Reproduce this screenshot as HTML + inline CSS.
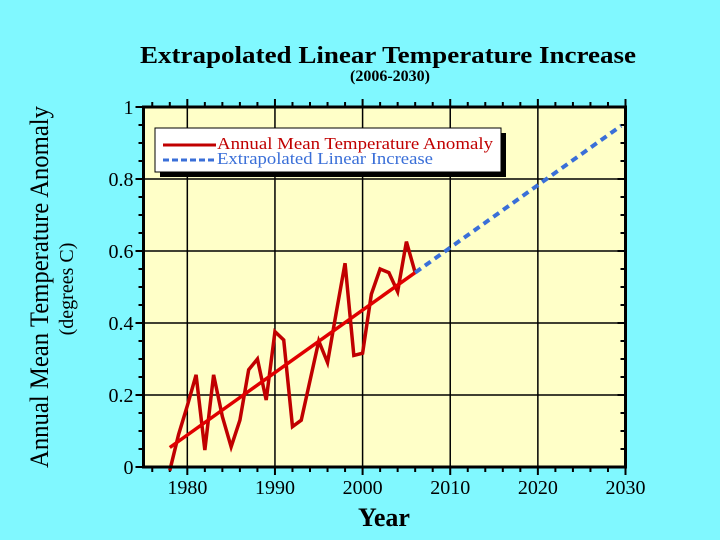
<!DOCTYPE html>
<html><head><meta charset="utf-8">
<style>
html,body{margin:0;padding:0;background:#80f8ff;}
svg{display:block;}
text{font-family:"Liberation Serif",serif;}
</style></head>
<body>
<svg id="chart" width="720" height="540" viewBox="0 0 720 540">
<rect x="0" y="0" width="720" height="540" fill="#80f8ff"/>
<text x="388" y="63" text-anchor="middle" font-size="24" font-weight="bold" textLength="496" lengthAdjust="spacingAndGlyphs">Extrapolated Linear Temperature Increase</text>
<text x="390" y="81" text-anchor="middle" font-size="16" font-weight="bold">(2006-2030)</text>
<text transform="translate(48,287) rotate(-90)" text-anchor="middle" font-size="26" textLength="362" lengthAdjust="spacingAndGlyphs">Annual Mean Temperature Anomaly</text>
<text transform="translate(73,289) rotate(-90)" text-anchor="middle" font-size="20">(degrees C)</text>
<text x="384" y="526" text-anchor="middle" font-size="26" font-weight="bold">Year</text>
<rect x="143.5" y="107" width="482" height="360" fill="#ffffc8"/>
<g id="grid"></g>
<g id="ticks"></g>
<g id="marks"></g>
<rect x="143.5" y="107" width="482" height="360" fill="none" stroke="#000" stroke-width="3"/>
<g id="legend">
<rect x="160" y="133" width="346" height="44" fill="#000"/>
<rect x="155" y="128" width="346" height="44" fill="#fff" stroke="#000" stroke-width="1"/>
<line x1="163" y1="145" x2="216" y2="145" stroke="#c00000" stroke-width="3"/>
<text x="217" y="149" font-size="17" fill="#c00000" textLength="276" lengthAdjust="spacingAndGlyphs">Annual Mean Temperature Anomaly</text>
<line x1="163" y1="160" x2="216" y2="160" stroke="#3a6fd8" stroke-width="3" stroke-dasharray="6,3"/>
<text x="217" y="164" font-size="17" fill="#3a6fd8" textLength="216" lengthAdjust="spacingAndGlyphs">Extrapolated Linear Increase</text>
</g>
</svg>
<script>
const years = [1978,1979,1980,1981,1982,1983,1984,1985,1986,1987,1988,1989,1990,1991,1992,1993,1994,1995,1996,1997,1998,1999,2000,2001,2002,2003,2004,2005,2006];
const anomaly = [-0.01,0.09,0.17,0.256,0.047,0.256,0.14,0.056,0.13,0.27,0.30,0.186,0.376,0.353,0.112,0.13,0.24,0.35,0.29,0.43,0.566,0.31,0.316,0.48,0.55,0.54,0.487,0.626,0.54];
const trendYears = [1978,2006];
const extrapYears = [2006,2029.5];
const trendSlope = 0.01735;
const trendAt2006 = 0.54;
const xTickLabels = [1980,1990,2000,2010,2020,2030];
const yTickLabels = [0,0.2,0.4,0.6,0.8,1];
const xMin=1975,xMax=2030,yMin=0,yMax=1;
const L=143.5,R=625.5,T=107,B=467;
function sx(v){return L+(v-xMin)/(xMax-xMin)*(R-L);}
function sy(v){return B-(v-yMin)/(yMax-yMin)*(B-T);}
const NS="http://www.w3.org/2000/svg";
function mk(tag,attrs,parent){const e=document.createElementNS(NS,tag);for(const k in attrs)e.setAttribute(k,attrs[k]);document.getElementById(parent).appendChild(e);return e;}
const trend=y=>trendAt2006+trendSlope*(y-2006);
xTickLabels.forEach(v=>{
  const g=mk('line',{x1:sx(v),x2:sx(v),y1:T,y2:B,stroke:'#000','stroke-width':1.5},'grid');
  
  
  const t=mk('text',{x:sx(v),y:B+27,'text-anchor':'middle','font-size':20},'ticks');
  t.textContent=v;
  
  
});
yTickLabels.forEach(v=>{
  const g=mk('line',{x1:L,x2:R,y1:sy(v),y2:sy(v),stroke:'#000','stroke-width':1.5},'grid');
  
  
  const t=mk('text',{x:L-10,y:sy(v)+7,'text-anchor':'end','font-size':20},'ticks');
  t.textContent=v;
  
  
});
for(let y=1976;y<=2030;y+=2){
  const major=(y%10===0);
  const len=major?8:5;
  const a=mk('line',{x1:sx(y),x2:sx(y),y1:B,y2:B+len,stroke:'#000','stroke-width':2},'ticks');
  
  
  const b=mk('line',{x1:sx(y),x2:sx(y),y1:T,y2:T-len,stroke:'#000','stroke-width':2},'ticks');
  
  
}
for(let i=0;i<=20;i++){
  const v=i*0.05;
  const len=(i%4===0)?8:5;
  const a=mk('line',{x1:L,x2:L-len,y1:sy(v),y2:sy(v),stroke:'#000','stroke-width':2},'ticks');
  
  
  const b=mk('line',{x1:R,x2:R-len,y1:sy(v),y2:sy(v),stroke:'#000','stroke-width':2},'ticks');
  
  
}
const pts=years.map((y,i)=>sx(y)+','+sy(anomaly[i])).join(' ');
const pl=mk('polyline',{points:pts,fill:'none',stroke:'#c00000','stroke-width':3.5,'stroke-linejoin':'miter'},'marks');


const tl=mk('line',{x1:sx(trendYears[0]),y1:sy(trend(trendYears[0])),x2:sx(trendYears[1]),y2:sy(trend(trendYears[1])),stroke:'#e00000','stroke-width':3.5},'marks');


const el=mk('line',{x1:sx(extrapYears[0]),y1:sy(trend(extrapYears[0])),x2:sx(extrapYears[1]),y2:sy(trend(extrapYears[1])),stroke:'#3a6fd8','stroke-width':4,'stroke-dasharray':'7,5'},'marks');


</script>
</body></html>
